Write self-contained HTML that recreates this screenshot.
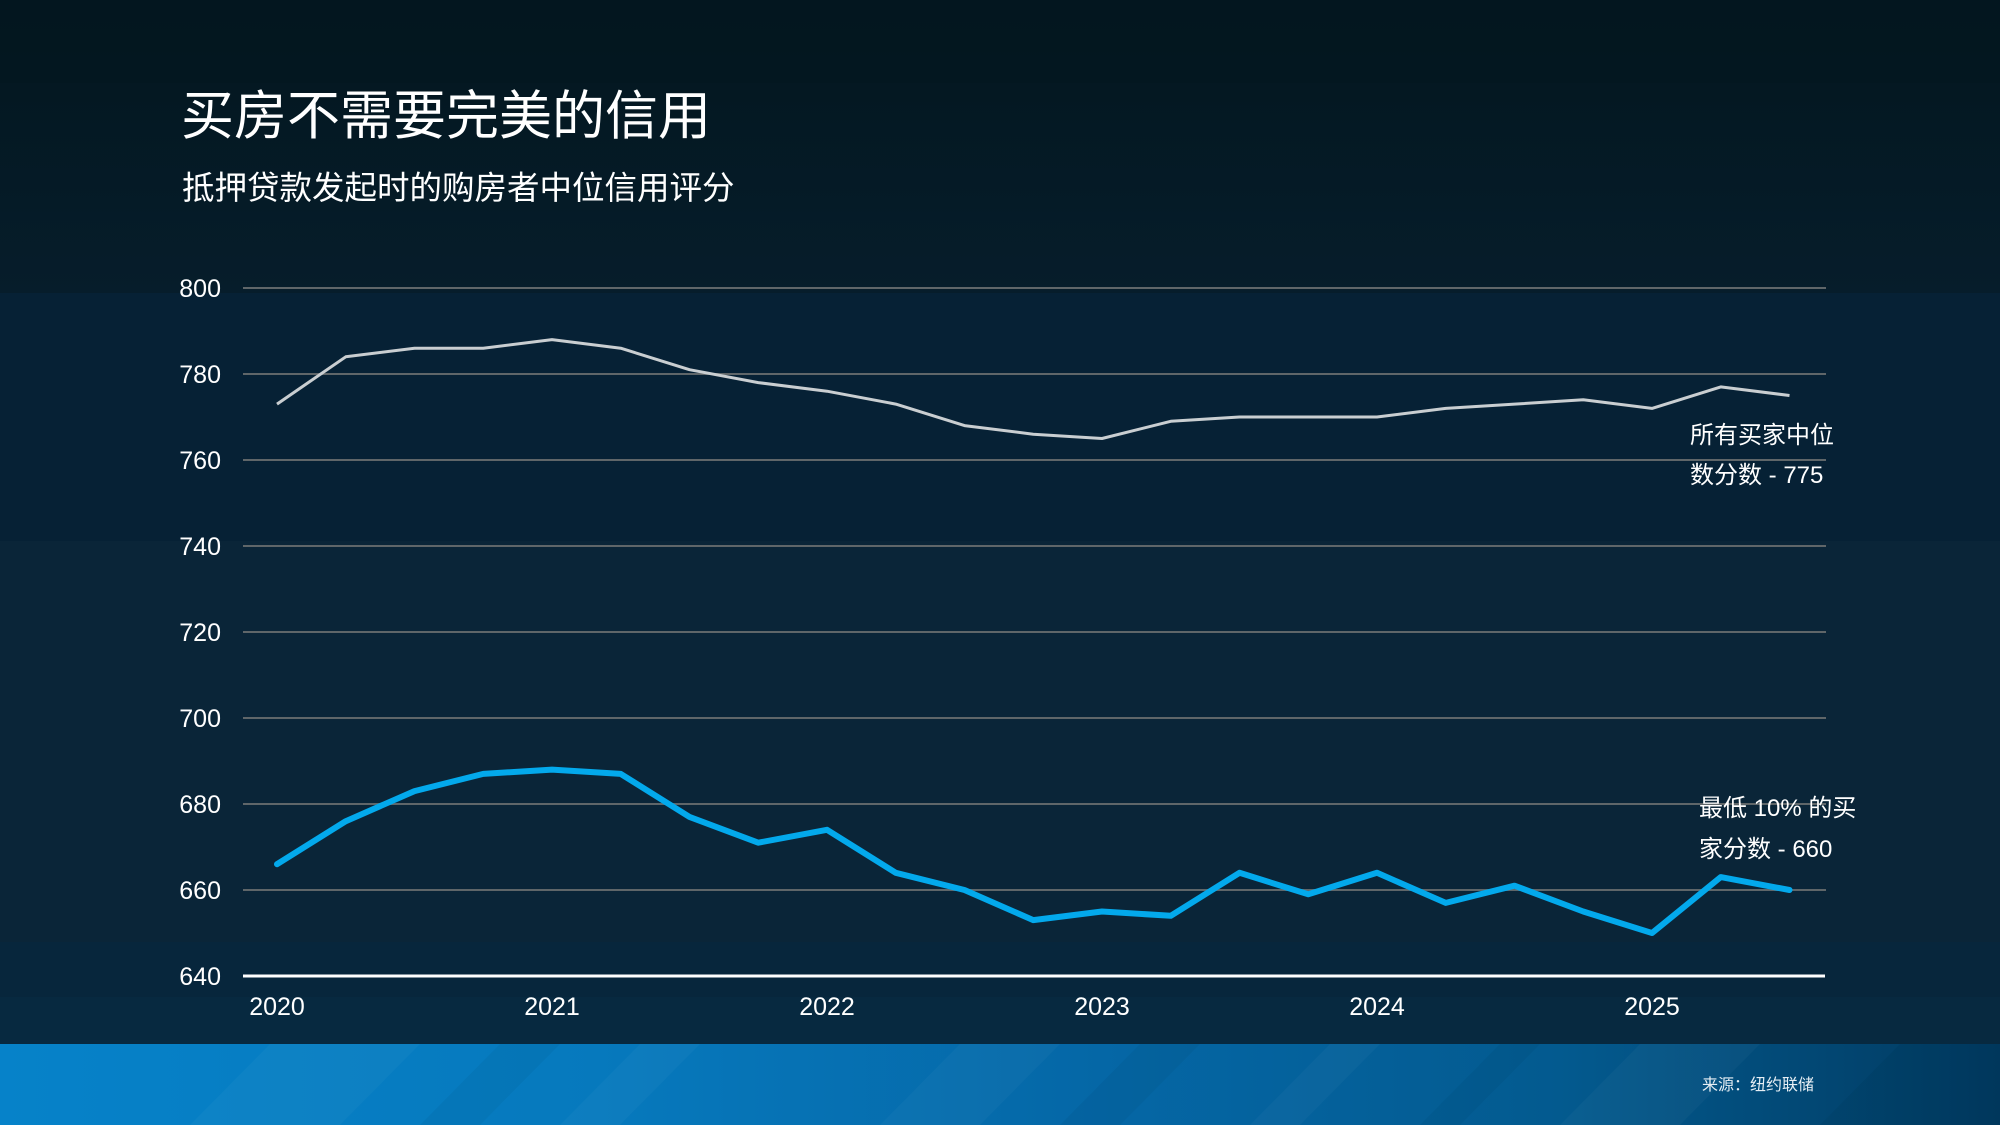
<!DOCTYPE html>
<html lang="zh-CN">
<head>
<meta charset="utf-8">
<style>
  html, body { margin: 0; padding: 0; background: #061c2a; }
  body { width: 2000px; height: 1125px; overflow: hidden; }
  svg { display: block; }
  .cjk { font-family: "Liberation Sans", "Noto Sans CJK SC", "WenQuanYi Zen Hei", sans-serif; }
  .num { font-family: "Liberation Sans", Arial, sans-serif; }
</style>
</head>
<body>
<svg width="2000" height="1125" viewBox="0 0 2000 1125" xmlns="http://www.w3.org/2000/svg">
  <defs>
    <linearGradient id="topg" x1="0" y1="0" x2="0" y2="1">
      <stop offset="0" stop-color="#03161e"/>
      <stop offset="1" stop-color="#061d2b"/>
    </linearGradient>
    <linearGradient id="foot" x1="0" y1="0" x2="1" y2="0">
      <stop offset="0" stop-color="#0682c9"/>
      <stop offset="0.3" stop-color="#0679bd"/>
      <stop offset="0.55" stop-color="#0567a6"/>
      <stop offset="0.78" stop-color="#035a8f"/>
      <stop offset="1" stop-color="#013a60"/>
    </linearGradient>
  </defs>

  <!-- background bands -->
  <rect x="0" y="0" width="2000" height="293" fill="url(#topg)"/>
  <rect x="0" y="0" width="2000" height="83" fill="#031820" opacity="0.6"/>
  <rect x="0" y="293" width="2000" height="248" fill="#062135"/>
  <rect x="0" y="541" width="2000" height="401" fill="#0a2538"/>
  <rect x="0" y="942" width="2000" height="55" fill="#07263c"/>
  <rect x="0" y="997" width="2000" height="47" fill="#072940"/>

  <!-- footer -->
  <rect x="0" y="1044" width="2000" height="81" fill="url(#foot)"/>
  <g opacity="0.03" fill="#ffffff">
    <polygon points="190,1125 270,1044 420,1044 340,1125"/>
    <polygon points="560,1125 640,1044 700,1044 620,1125"/>
    <polygon points="880,1125 960,1044 1060,1044 980,1125"/>
    <polygon points="1250,1125 1330,1044 1380,1044 1300,1125"/>
    <polygon points="1560,1125 1640,1044 1760,1044 1680,1125"/>
  </g>
  <g opacity="0.04" fill="#000000">
    <polygon points="420,1125 500,1044 560,1044 480,1125"/>
    <polygon points="1060,1125 1140,1044 1200,1044 1120,1125"/>
    <polygon points="1420,1125 1500,1044 1540,1044 1460,1125"/>
    <polygon points="1820,1125 1900,1044 2000,1044 2000,1125"/>
  </g>
  <text class="cjk" x="1702" y="1090" font-size="16" fill="#e6eef4">来源：纽约联储</text>

  <!-- titles -->
  <text class="cjk" x="181" y="134" font-size="53" fill="#ffffff">买房不需要完美的信用</text>
  <text class="cjk" x="182" y="199" font-size="32.5" fill="#ffffff">抵押贷款发起时的购房者中位信用评分</text>

  <!-- gridlines -->
  <g stroke="#5f6669" stroke-width="2">
    <line x1="243" y1="288" x2="1826" y2="288"/>
    <line x1="243" y1="374" x2="1826" y2="374"/>
    <line x1="243" y1="460" x2="1826" y2="460"/>
    <line x1="243" y1="546" x2="1826" y2="546"/>
    <line x1="243" y1="632" x2="1826" y2="632"/>
    <line x1="243" y1="718" x2="1826" y2="718"/>
    <line x1="243" y1="804" x2="1826" y2="804"/>
    <line x1="243" y1="890" x2="1826" y2="890"/>
  </g>
  <line x1="243" y1="976" x2="1825" y2="976" stroke="#ffffff" stroke-width="3"/>

  <!-- y labels -->
  <g class="num" font-size="25" fill="#ffffff" text-anchor="end">
    <text x="221" y="297">800</text>
    <text x="221" y="383">780</text>
    <text x="221" y="469">760</text>
    <text x="221" y="555">740</text>
    <text x="221" y="641">720</text>
    <text x="221" y="727">700</text>
    <text x="221" y="813">680</text>
    <text x="221" y="899">660</text>
    <text x="221" y="985">640</text>
  </g>

  <!-- x labels -->
  <g class="num" font-size="25" fill="#ffffff" text-anchor="middle">
    <text x="277" y="1015">2020</text>
    <text x="552" y="1015">2021</text>
    <text x="827" y="1015">2022</text>
    <text x="1102" y="1015">2023</text>
    <text x="1377" y="1015">2024</text>
    <text x="1652" y="1015">2025</text>
  </g>

  <!-- all buyers median -->
  <polyline fill="none" stroke="#c9ced1" stroke-width="3" stroke-linejoin="round" stroke-linecap="butt"
    points="277,404.1 345.75,356.8 414.5,348.2 483.25,348.2 552,339.6 620.75,348.2 689.5,369.7 758.25,382.6 827,391.2 895.75,404.1 964.5,425.6 1033.25,434.2 1102,438.5 1170.75,421.3 1239.5,417 1308.25,417 1377,417 1445.75,408.4 1514.5,404.1 1583.25,399.8 1652,408.4 1720.75,386.9 1789.5,395.5"/>

  <!-- bottom 10% -->
  <polyline fill="none" stroke="#03a9ec" stroke-width="6" stroke-linejoin="round" stroke-linecap="round"
    points="277,864.2 345.75,821.2 414.5,791.1 483.25,773.9 552,769.6 620.75,773.9 689.5,816.9 758.25,842.7 827,829.8 895.75,872.8 964.5,890 1033.25,920.1 1102,911.5 1170.75,915.8 1239.5,872.8 1308.25,894.3 1377,872.8 1445.75,902.9 1514.5,885.7 1583.25,911.5 1652,933 1720.75,877.1 1789.5,890"/>

  <!-- annotations -->
  <g class="cjk" font-size="24" fill="#ffffff">
    <text x="1690" y="443">所有买家中位</text>
    <text x="1690" y="483">数分数 - 775</text>
    <text x="1699" y="816">最低 10% 的买</text>
    <text x="1699" y="857">家分数 - 660</text>
  </g>
</svg>
</body>
</html>
